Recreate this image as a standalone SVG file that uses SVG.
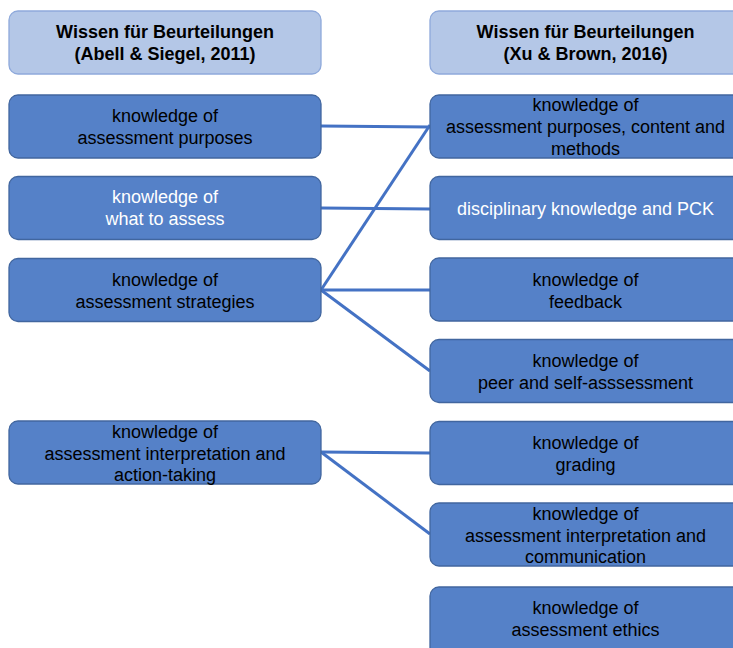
<svg xmlns="http://www.w3.org/2000/svg" width="733" height="648" viewBox="0 0 733 648">
<style>
.hdr{fill:#B4C7E7;stroke:#8EA9DB;stroke-width:1.3}
.box{fill:#5581C8;stroke:#41669F;stroke-width:1.3}
text{font-family:"Liberation Sans",Arial,sans-serif;font-size:18px;text-anchor:middle;fill:#000}
.b{font-weight:bold}
.w{fill:#fff}
.con{stroke:#4472C4;stroke-width:3;fill:none}
</style>
<rect width="733" height="648" fill="#fff"/>
<g id="connectors">
<line class="con" x1="321" y1="126" x2="430" y2="127"/>
<line class="con" x1="321" y1="208" x2="430" y2="209"/>
<line class="con" x1="321" y1="290" x2="430" y2="125"/>
<line class="con" x1="321" y1="290" x2="430" y2="290"/>
<line class="con" x1="321" y1="290" x2="430" y2="371"/>
<line class="con" x1="321" y1="452" x2="430" y2="453"/>
<line class="con" x1="321" y1="452" x2="430" y2="534"/>
</g>
<g id="hdrL"><rect class="hdr" x="9" y="11" width="312" height="63" rx="9"/>
<text class="b" x="165" y="38">Wissen für Beurteilungen</text><text class="b" x="165" y="60">(Abell &amp; Siegel, 2011)</text></g>
<g id="hdrR"><rect class="hdr" x="430" y="11" width="313" height="63" rx="9"/>
<text class="b" x="585.5" y="38">Wissen für Beurteilungen</text><text class="b" x="585.5" y="60">(Xu &amp; Brown, 2016)</text></g>
<g id="L1"><rect class="box" x="9" y="95" width="312" height="63" rx="9"/>
<text x="165" y="121.5">knowledge of</text><text x="165" y="143.5">assessment purposes</text></g>
<g id="L2"><rect class="box" x="9" y="176.5" width="312" height="63" rx="9"/>
<text class="w" x="165" y="203">knowledge of</text><text class="w" x="165" y="225">what to assess</text></g>
<g id="L3"><rect class="box" x="9" y="258.5" width="312" height="63" rx="9"/>
<text x="165" y="285.5">knowledge of</text><text x="165" y="307.5">assessment strategies</text></g>
<g id="L4"><rect class="box" x="9" y="421" width="312" height="63" rx="9"/>
<text x="165" y="437.5">knowledge of</text><text x="165" y="459.5">assessment interpretation and</text><text x="165" y="481">action-taking</text></g>
<g id="R1"><rect class="box" x="430" y="95" width="313" height="63" rx="9"/>
<text x="585.5" y="111">knowledge of</text><text x="585.5" y="133">assessment purposes, content and</text><text x="585.5" y="154.5">methods</text></g>
<g id="R2"><rect class="box" x="430" y="176.5" width="313" height="63" rx="9"/>
<text class="w" x="585.5" y="215">disciplinary knowledge and PCK</text></g>
<g id="R3"><rect class="box" x="430" y="258" width="313" height="63" rx="9"/>
<text x="585.5" y="285.5">knowledge of</text><text x="585.5" y="307.5">feedback</text></g>
<g id="R4"><rect class="box" x="430" y="339.5" width="313" height="63" rx="9"/>
<text x="585.5" y="366.5">knowledge of</text><text x="585.5" y="388.5">peer and self-asssessment</text></g>
<g id="R5"><rect class="box" x="430" y="421.5" width="313" height="63" rx="9"/>
<text x="585.5" y="448.5">knowledge of</text><text x="585.5" y="470.5">grading</text></g>
<g id="R6"><rect class="box" x="430" y="503" width="313" height="63" rx="9"/>
<text x="585.5" y="519.5">knowledge of</text><text x="585.5" y="541.5">assessment interpretation and</text><text x="585.5" y="563">communication</text></g>
<g id="R7"><rect class="box" x="430" y="587" width="313" height="70" rx="9"/>
<text x="585.5" y="614">knowledge of</text><text x="585.5" y="636">assessment ethics</text></g>
</svg>
